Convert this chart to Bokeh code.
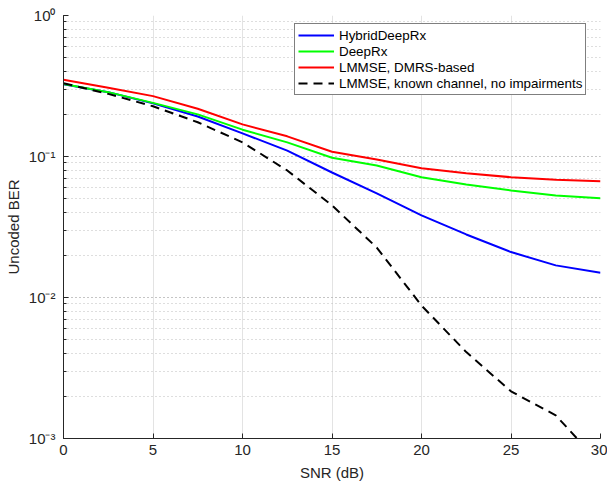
from bokeh.plotting import figure
from bokeh.models import Legend, LegendItem, FixedTicker, Range1d
from bokeh.embed import file_html
from bokeh.resources import INLINE

snr = [0, 2.5, 5, 7.5, 10, 12.5, 15, 17.5, 20, 22.5, 25, 27.5, 30]
hybrid_deeprx = [0.325, 0.286, 0.238, 0.192, 0.146, 0.110, 0.077, 0.0547, 0.0382, 0.028, 0.021, 0.0169, 0.015]
deeprx = [0.327, 0.286, 0.240, 0.199, 0.155, 0.126, 0.098, 0.0863, 0.0713, 0.0633, 0.0574, 0.0529, 0.0506]
lmmse_dmrs = [0.35, 0.307, 0.268, 0.218, 0.169, 0.139, 0.108, 0.0953, 0.0826, 0.0762, 0.0713, 0.0683, 0.0668]
lmmse_known = [0.331, 0.278, 0.227, 0.175, 0.126, 0.0796, 0.045, 0.0226, 0.00877, 0.0041, 0.00216, 0.00146, 0.00066]

x_ticks = [0, 5, 10, 15, 20, 25, 30]
y_ticks = [1e-3, 1e-2, 1e-1, 1]
y_tick_labels = ["10⁻³", "10⁻²", "10⁻¹", "10⁰"]

FONT = "Liberation Sans"
TXT = "#262626"

p = figure(width=607, height=486, y_axis_type="log",
           x_range=Range1d(0, 30), y_range=Range1d(1e-3, 1),
           output_backend="svg", toolbar_location=None,
           min_border_left=63, min_border_right=7, min_border_top=15, min_border_bottom=48)
p.outline_line_color = None
p.background_fill_color = "white"

r_blue = p.line(snr, hybrid_deeprx, line_color="#0000ff", line_width=2)
r_green = p.line(snr, deeprx, line_color="#00ff00", line_width=2)
r_red = p.line(snr, lmmse_dmrs, line_color="#ff0000", line_width=2)
r_black = p.line(snr, lmmse_known, line_color="black", line_width=2, line_dash="9 6")

# axes
p.xaxis.ticker = FixedTicker(ticks=x_ticks)
p.yaxis.ticker.num_minor_ticks = 10
p.yaxis.major_label_overrides = {t: l for t, l in zip(y_ticks, y_tick_labels)}
for ax in (p.xaxis, p.yaxis):
    ax.axis_line_color = TXT
    ax.major_tick_line_color = TXT
    ax.minor_tick_line_color = TXT
    ax.major_tick_in = 5
    ax.major_tick_out = 0
    ax.minor_tick_in = 3
    ax.minor_tick_out = 0
    ax.major_label_text_font = FONT
    ax.major_label_text_font_size = "15px"
    ax.major_label_text_color = TXT
    ax.axis_label_text_font = FONT
    ax.axis_label_text_font_size = "15px"
    ax.axis_label_text_font_style = "normal"
    ax.axis_label_text_color = TXT
p.xaxis.axis_label = "SNR (dB)"
p.yaxis.axis_label = "Uncoded BER"
p.xaxis.major_label_standoff = 6
p.yaxis.major_label_standoff = 8
p.yaxis.axis_label_standoff = 4
p.xaxis.axis_label_standoff = 6

# grids
p.xgrid.grid_line_color = "#e3e3e3"
p.xgrid.grid_line_width = 1
p.ygrid.grid_line_color = "#bdbdbd"
p.ygrid.grid_line_dash = "1 3"
p.ygrid.minor_grid_line_color = "#bdbdbd"
p.ygrid.minor_grid_line_dash = "1 3"

legend = Legend(items=[
    LegendItem(label="HybridDeepRx", renderers=[r_blue]),
    LegendItem(label="DeepRx", renderers=[r_green]),
    LegendItem(label="LMMSE, DMRS-based", renderers=[r_red]),
    LegendItem(label="LMMSE, known channel, no impairments", renderers=[r_black]),
], location=(231, 343))
legend.label_text_font = FONT
legend.label_text_font_size = "13.4px"
legend.label_text_color = "black"
legend.glyph_width = 36
legend.glyph_height = 16
legend.label_height = 16
legend.label_standoff = 5
legend.spacing = 0
legend.padding = 3
legend.margin = 0
legend.border_line_color = "black"
legend.border_line_width = 1
legend.background_fill_alpha = 1
p.add_layout(legend, "center")

open("out.html", "w").write(file_html(p, INLINE))
